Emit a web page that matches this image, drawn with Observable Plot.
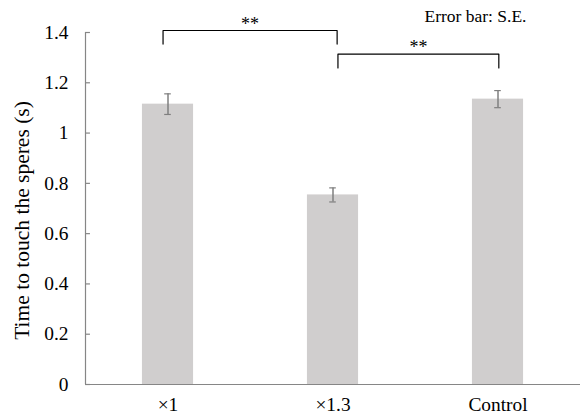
<!DOCTYPE html>
<html>
<head>
<meta charset="utf-8">
<script src="https://cdn.jsdelivr.net/npm/d3@7"></script>
<script src="https://cdn.jsdelivr.net/npm/@observablehq/plot@0.6"></script>
<style>
  html, body { margin: 0; padding: 0; background: white; }
</style>
</head>
<body>
<div id="chart"></div>
<script>
// ---- data ----
const categories = ["×1", "×1.3", "Control"];
const means = [1.115, 0.754, 1.135];
const stdErrors = [0.041, 0.028, 0.034];
const yTicks = [0, 0.2, 0.4, 0.6, 0.8, 1, 1.2, 1.4];
const yLabel = "Time to touch the speres (s)";
const note = "Error bar: S.E.";
// significance brackets
const bracketStart = [-0.03, 1.03];
const bracketEnd = [1.025, 2.005];
const bracketTop = [1.408, 1.314];
const bracketLeg = [1.354, 1.259];
const bracketLabel = ["**", "**"];
const bracketLabelY = [1.434, 1.34];

// ---- derived tables ----
const data = categories.map((c, i) => ({i, c, mean: means[i], se: stdErrors[i]}));
const bracketLines = bracketStart.flatMap((s, k) => [
  {k, x: s, y: bracketLeg[k]},
  {k, x: s, y: bracketTop[k]},
  {k, x: bracketEnd[k], y: bracketTop[k]},
  {k, x: bracketEnd[k], y: bracketLeg[k]}
]);
const bracketTexts = bracketStart.map((s, k) => ({x: (s + bracketEnd[k]) / 2, y: bracketLabelY[k], t: bracketLabel[k]}));

const serif = "'Liberation Serif', 'Times New Roman', serif";
const halfBar = 0.155;
const capHalf = 0.02;
const tickLen = 0.03;
const axisColor = "#868686";

const chart = Plot.plot({
  width: 580,
  height: 416,
  marginLeft: 85,
  marginRight: 0,
  marginTop: 32,
  marginBottom: 32,
  style: {fontFamily: serif, fontSize: "19px", background: "white", color: "black"},
  x: {domain: [-0.5, 2.5], axis: null},
  y: {domain: [0, 1.4], axis: null},
  marks: [
    Plot.rectY(data, {x1: d => d.i - halfBar, x2: d => d.i + halfBar, y1: 0, y2: "mean", fill: "#d0cece"}),
    Plot.ruleX(data, {x: "i", y1: d => d.mean - d.se, y2: d => d.mean + d.se, stroke: "#7f7f7f", strokeWidth: 1.5}),
    Plot.ruleY(data, {x1: d => d.i - capHalf, x2: d => d.i + capHalf, y: d => d.mean + d.se, stroke: "#7f7f7f", strokeWidth: 1.2}),
    Plot.ruleY(data, {x1: d => d.i - capHalf, x2: d => d.i + capHalf, y: d => d.mean - d.se, stroke: "#7f7f7f", strokeWidth: 1.2}),
    Plot.ruleY([0], {stroke: axisColor, strokeWidth: 1.2}),
    Plot.ruleX([-0.5], {y1: 0, y2: 1.4, stroke: axisColor, strokeWidth: 1.2}),
    Plot.ruleY(yTicks, {x1: -0.5, x2: -0.5 + tickLen, stroke: axisColor, strokeWidth: 1.2}),
    Plot.axisY({ticks: yTicks, tickSize: 0, tickPadding: 17, tickFormat: d => String(+d.toFixed(1)), fontSize: 19.4, fontFamily: serif, fontVariant: "normal"}),
    Plot.axisX({ticks: [0, 1, 2], tickSize: 0, tickPadding: 13, tickFormat: i => categories[i], fontSize: 19.4, fontFamily: serif, fontVariant: "normal"}),
    Plot.line(bracketLines, {x: "x", y: "y", z: "k", stroke: "black", strokeWidth: 1.2, curve: "linear"}),
    Plot.text(bracketTexts, {x: "x", y: "y", text: "t", fontSize: 18, fontFamily: serif}),
    Plot.text([note], {frameAnchor: "top-right", dx: -54, dy: -16, textAnchor: "end", lineAnchor: "middle", fontSize: 17.5, fontFamily: serif}),
    Plot.text([yLabel], {frameAnchor: "left", rotate: -90, textAnchor: "middle", dx: -63, dy: 12, fontSize: 21.5, fontFamily: serif})
  ]
});
document.getElementById("chart").appendChild(chart);
</script>
</body>
</html>
